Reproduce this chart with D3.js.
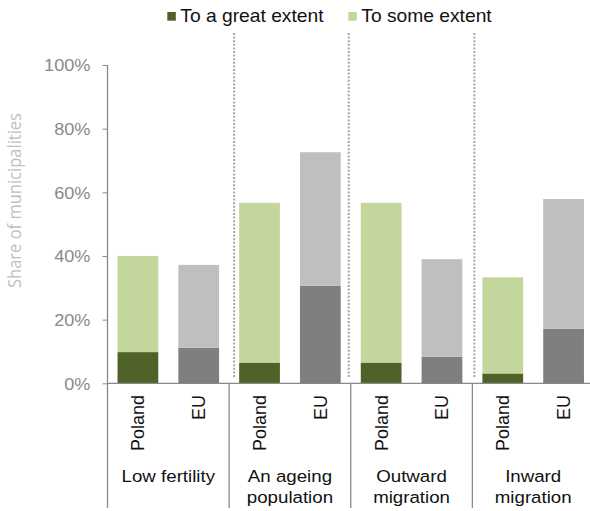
<!DOCTYPE html>
<html><head><meta charset="utf-8">
<script src="https://cdn.jsdelivr.net/npm/d3@7"></script>
<style>body{margin:0;background:#fff}svg{display:block;font-family:"Liberation Sans",Arial,sans-serif}</style>
</head><body>
<script>
const groups = [["Low fertility"],["An ageing","population"],["Outward","migration"],["Inward","migration"]];
const regions = ["Poland","EU"];
const polandGreat = [9.8, 6.5, 6.5, 3.1];
const polandSome  = [30.2, 50.2, 50.2, 30.2];
const euGreat     = [11.2, 30.6, 8.3, 17.1];
const euSome      = [26.0, 42.0, 30.7, 40.8];
const yTicks = [0,20,40,60,80,100];
const legendLabels = ["To a great extent","To some extent"];

(function(){
const W=590,H=511;
const svg=d3.select("body").append("svg").attr("width",W).attr("height",H);
const mLeft=107.5, mRight=594, mTop=65, mBottom=383.3;
const sx=1.1; // horizontal text stretch seen in the reference
const keys=[];
groups.forEach((g,i)=>regions.forEach(r=>keys.push(i+"|"+r)));
const x=d3.scaleBand().domain(keys).range([mLeft,mRight]).paddingInner(0.33).paddingOuter(0.165);
const y=d3.scaleLinear().domain([0,100]).range([mBottom,mTop]);
const axisCol="#898989";

// dotted separators
const dotOffsets=[5,-2,2];
for(let i=1;i<groups.length;i++){
  const xs=mLeft+(mRight-mLeft)*i/groups.length+dotOffsets[i-1];
  svg.append("line").attr("x1",xs).attr("x2",xs).attr("y1",33).attr("y2",378)
    .attr("stroke","#a6a6a6").attr("stroke-width",2).attr("stroke-dasharray","2,1.6");
}

// bars
const colors={Poland:["#4f6228","#c3d69b"],EU:["#7f7f7f","#bfbfbf"]};
groups.forEach((g,i)=>{
  regions.forEach(r=>{
    const great = r==="Poland"?polandGreat[i]:euGreat[i];
    const some = r==="Poland"?polandSome[i]:euSome[i];
    const xx=x(i+"|"+r);
    svg.append("rect").attr("x",xx).attr("width",x.bandwidth())
      .attr("y",y(great)).attr("height",y(0)-y(great)).attr("fill",colors[r][0]);
    svg.append("rect").attr("x",xx).attr("width",x.bandwidth())
      .attr("y",y(great+some)).attr("height",y(great)-y(great+some)).attr("fill",colors[r][1]);
  });
});

// y axis
const ya=svg.append("g").attr("transform",`translate(${mLeft},0)`)
  .call(d3.axisLeft(y).tickValues(yTicks).tickFormat(d=>d+"%").tickSize(5).tickSizeOuter(0));
ya.select(".domain").remove();
ya.selectAll("line").attr("stroke",axisCol);
ya.selectAll("text").attr("fill","#898989").attr("font-size",16.5).attr("x",0).attr("dy","0.35em")
  .attr("transform",`translate(-17,0) scale(${sx},1)`);
svg.append("line").attr("x1",mLeft).attr("x2",mLeft).attr("y1",mTop).attr("y2",508).attr("stroke",axisCol).attr("stroke-width",1.3);
// x axis
svg.append("line").attr("x1",mLeft).attr("x2",mRight).attr("y1",mBottom).attr("y2",mBottom).attr("stroke",axisCol).attr("stroke-width",1.3);
for(let i=1;i<=groups.length;i++){
  const xs=mLeft+(mRight-mLeft)*i/groups.length;
  svg.append("line").attr("x1",xs).attr("x2",xs).attr("y1",mBottom).attr("y2",508).attr("stroke",axisCol).attr("stroke-width",1.3);
}
// region labels
keys.forEach(k=>{
  const r=k.split("|")[1];
  const cx=x(k)+x.bandwidth()/2;
  svg.append("text").attr("transform",`translate(${cx+6.5},395) rotate(-90)`)
    .attr("text-anchor","end").attr("font-size",18).attr("fill","#111").text(r);
});
// group labels
groups.forEach((g,i)=>{
  const cx=mLeft+(mRight-mLeft)*(i+0.5)/groups.length;
  g.forEach((line,j)=>{
    svg.append("text").attr("transform",`translate(${cx},${481.7+j*21.5}) scale(${sx},1)`).attr("text-anchor","middle")
      .attr("font-size",17).attr("fill","#111").text(line);
  });
});
// y title
svg.append("text").attr("transform","translate(21,200.5) rotate(-90)").attr("text-anchor","middle")
  .attr("font-family","'Open Sans',sans-serif").attr("font-size",18.5).attr("fill","#bfbfbf")
  .attr("textLength",175).attr("lengthAdjust","spacingAndGlyphs").text("Share of municipalities");
// legend
const legX=[167.3,348.3], legC=["#4f6228","#c3d69b"];
legendLabels.forEach((l,i)=>{
  svg.append("rect").attr("x",legX[i]).attr("y",12).attr("width",8.5).attr("height",8.7).attr("fill",legC[i]);
  svg.append("text").attr("transform",`translate(${legX[i]+13},22) scale(${sx},1)`).attr("font-size",17.5).attr("fill","#111").text(l);
});
})();
</script>
</body></html>
